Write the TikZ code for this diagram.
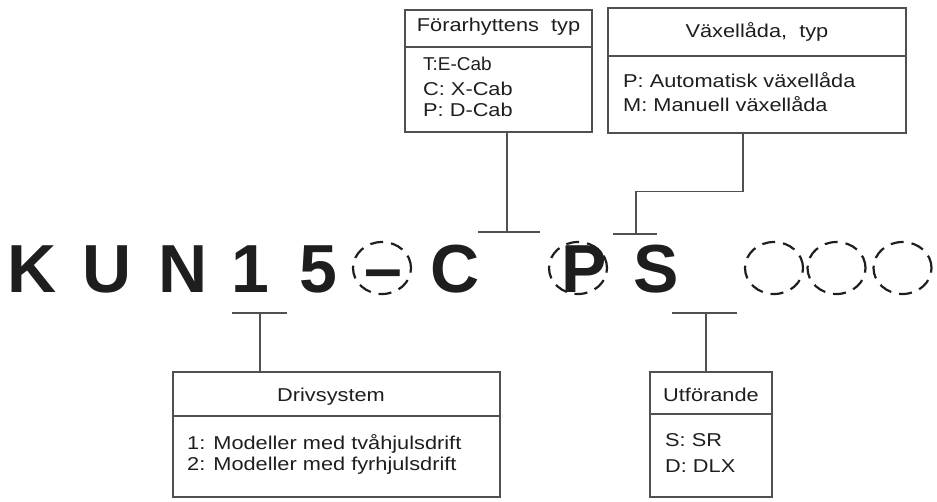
\documentclass[tikz,border=0pt]{standalone}
\usepackage{fontspec}
\setmainfont{Liberation Sans}
\newfontfamily\boxfont[FakeStretch=1.17]{Liberation Sans}
\newfontfamily\condfont[FakeStretch=1.02]{Liberation Sans}
\usetikzlibrary{calc,shapes.geometric}
\definecolor{LineGrey}{HTML}{505050}
\definecolor{InkDark}{HTML}{1E1E1E}
\tikzset{every node/.style={inner sep=0pt,text=InkDark},
 infobox/.style={draw=LineGrey,line width=1.3pt},
 boxtext/.style={font=\boxfont\fontsize{18.6}{21}\selectfont,align=left},
 codechar/.style={font=\bfseries\fontsize{68}{68}\selectfont,anchor=base},
 slot/.style={ellipse,draw=InkDark,line width=2.2pt,dash pattern=on 13pt off 8pt,
 minimum width=58pt,minimum height=52pt},
 lead/.style={draw=LineGrey,line width=1.3pt}}

\begin{document}
\begin{tikzpicture}[x=1pt,y=-1pt]
\useasboundingbox (0,0) rectangle (937,501);
% option boxes
\node[infobox,minimum width=187pt,minimum height=122pt] (cab) at (498.5,71) {};
\node[infobox,minimum width=298pt,minimum height=125pt] (gear) at (757,70.5) {};
\node[infobox,minimum width=327pt,minimum height=125pt] (drive) at (336.5,434.5) {};
\node[infobox,minimum width=122pt,minimum height=125pt] (trim) at (711,434.5) {};
\draw[lead] (cab.west |- 0,47) -- (cab.east |- 0,47);
\draw[lead] (gear.west |- 0,56) -- (gear.east |- 0,56);
\draw[lead] (drive.west |- 0,416) -- (drive.east |- 0,416);
\draw[lead] (trim.west |- 0,414) -- (trim.east |- 0,414);
\node[boxtext,anchor=base] (cabhead) at (cab.north |- 0,31) {Förarhyttens\ \ typ};
\node[boxtext,anchor=base] (gearhead) at (gear.north |- 0,37) {Växellåda,\ \ typ};
\node[boxtext,anchor=base] (drivehead) at (331,401) {Drivsystem};
\node[boxtext,anchor=base] (trimhead) at (trim.north |- 0,401) {Utförande};
% lists: base anchor sits on the last line
\node[boxtext,anchor=base west] (cablist) at (423,116)
 {{\condfont T:E-Cab}\\[4pt] C: X-Cab\\ P: D-Cab};
\node[boxtext,anchor=base west] (gearlist) at (623,111)
 {P: Automatisk växellåda\\[3pt] M: Manuell växellåda};
\node[boxtext,anchor=base west] (drivelist) at (187,470)
 {1: Modeller med tvåhjulsdrift\\ 2: Modeller med fyrhjulsdrift};
\node[boxtext,anchor=base west] (trimlist) at (665,472) {S: SR\\[5pt] D: DLX};
% model code
\node[slot] (dashslot) at (382,268) {};
\node[slot] (pslot) at (578,268) {};
\foreach \x/\nm in {774/one,836.5/two,902.5/three}
 \node[slot] (free\nm) at (\x,268) {};
\foreach \ch/\x/\nm in {K/32/k,U/107/u,N/183/n,1/250/one,5/318/five,C/455/c,P/584/p,S/656/s}
 \node[codechar] (code\nm) at (\x,292) {\ch};
\node[codechar] (codedash) at (383,291) {–};
% leader lines
\coordinate (cabtee) at (507,232);
\coordinate (geartee) at (636,234);
\coordinate (drivetee) at (260,313);
\coordinate (trimtee) at (706,313);
\draw[lead] (cab.south -| cabtee) -- (cabtee);
\draw[lead] ($(cabtee)+(-29,0)$) -- ($(cabtee)+(33,0)$);
\draw[lead] ($(gear.south)+(-14,0)$) -- ++(0,58) -| (geartee);
\draw[lead] ($(geartee)+(-23,0)$) -- ($(geartee)+(21,0)$);
\draw[lead] (drivetee) -- (drivetee |- drive.north);
\draw[lead] ($(drivetee)+(-28,0)$) -- ($(drivetee)+(27,0)$);
\draw[lead] (trimtee) -- (trimtee |- trim.north);
\draw[lead] ($(trimtee)+(-34,0)$) -- ($(trimtee)+(31,0)$);
\end{tikzpicture}
\end{document}
